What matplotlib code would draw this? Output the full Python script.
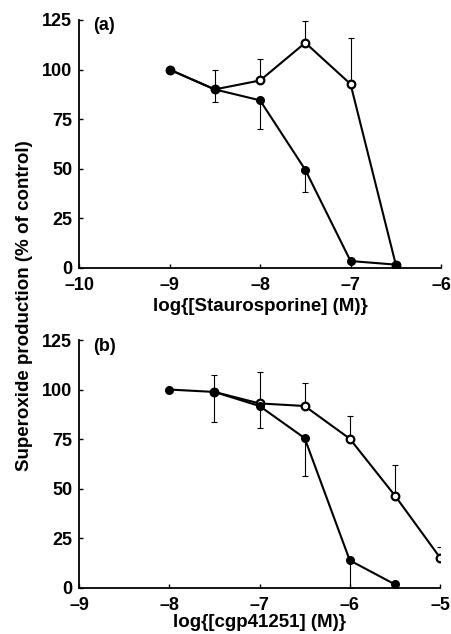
import matplotlib
matplotlib.use("Agg")
import matplotlib.pyplot as plt

plt.rcParams['font.family'] = ['Liberation Sans', 'DejaVu Sans']
plt.rcParams['font.weight'] = 'bold'

# Panel (a): Staurosporine
a_x = [-9, -8.5, -8, -7.5, -7, -6.5]
a_filled_y = [100, 90, 84.5, 49.5, 3.5, 1.7]
a_filled_lo = [0, 6.4, 14.5, 11, 0, 0]
a_filled_hi = [0, 0, 0, 0, 0, 0]
a_open_y = [100, 90, 94.5, 113.5, 92.7, 1.7]
a_open_lo = [0, 0, 0, 0, 0, 0]
a_open_hi = [0, 9.6, 11, 11, 23, 0]

# Panel (b): cgp41251
b_filled_x = [-8, -7.5, -7, -6.5, -6, -5.5]
b_filled_y = [100, 98.8, 91.7, 75.5, 13.8, 1.7]
b_filled_lo = [0, 15, 11.3, 19, 13.8, 0]
b_filled_hi = [0, 0, 0, 0, 0, 0]
b_open_x = [-7.5, -7, -6.5, -6, -5.5, -5]
b_open_y = [98.8, 93, 91.7, 75.2, 46.5, 15.2]
b_open_lo = [0, 0, 0, 0, 0, 0]
b_open_hi = [8.5, 16, 11.4, 11.4, 15.3, 5.2]

y_ticks = [0, 25, 50, 75, 100, 125]

fig = plt.figure(figsize=(4.52, 6.34), dpi=100)
ax1 = fig.add_axes([0.1748, 0.5773, 0.8010, 0.3912])
ax2 = fig.add_axes([0.1748, 0.0730, 0.7987, 0.3907])


def draw(ax, fx, fy, flo, fhi, ox, oy, olo, ohi, xlim, xticks, xlabel, tag,
         lpad):
    ax.errorbar(fx, fy, yerr=[flo, fhi], fmt='none', ecolor='black',
                elinewidth=0.8, capsize=2.5, capthick=0.8, zorder=2)
    ax.errorbar(ox, oy, yerr=[olo, ohi], fmt='none', ecolor='black',
                elinewidth=0.8, capsize=2.5, capthick=0.8, zorder=2)
    ax.plot(ox, oy, color='black', lw=1.5, zorder=3)
    ax.plot(fx, fy, color='black', lw=1.5, zorder=3)
    ax.plot(ox, oy, 'o', ms=5.5, mfc='white', mec='black', mew=1.6,
            ls='none', zorder=4)
    ax.plot(fx, fy, 'o', ms=5.5, mfc='black', mec='black',
            ls='none', zorder=5)
    ax.set_xlim(*xlim)
    ax.set_ylim(0, 125)
    ax.set_xticks(xticks)
    ax.set_xticklabels(['\u2013%d' % abs(t) for t in xticks])
    ax.set_yticks(y_ticks)
    ax.spines['top'].set_visible(False)
    ax.spines['right'].set_visible(False)
    ax.spines['left'].set_linewidth(1.3)
    ax.spines['bottom'].set_linewidth(1.3)
    ax.tick_params(direction='in', length=3, width=1, labelsize=13)
    ax.tick_params(axis='x', pad=6.5)
    ax.tick_params(axis='y', pad=5)
    for lab in ax.get_xticklabels() + ax.get_yticklabels():
        lab.set_fontweight('bold')
    ax.set_xlabel(xlabel, fontsize=13.5, fontweight='bold', labelpad=lpad)
    ax.text(0.04, 1.01, tag, transform=ax.transAxes, fontsize=13,
            fontweight='bold', va='top', ha='left')


draw(ax1, a_x, a_filled_y, a_filled_lo, a_filled_hi,
     a_x, a_open_y, a_open_lo, a_open_hi,
     (-10, -6), [-10, -9, -8, -7, -6], 'log{[Staurosporine] (M)}', '(a)', 3)
draw(ax2, b_filled_x, b_filled_y, b_filled_lo, b_filled_hi,
     b_open_x, b_open_y, b_open_lo, b_open_hi,
     (-9, -5), [-9, -8, -7, -6, -5], 'log{[cgp41251] (M)}', '(b)', 0.5)

fig.text(0.055, 0.518, 'Superoxide production (% of control)', rotation=90,
         fontsize=13.5, fontweight='bold', va='center', ha='center')

fig.savefig('out.png', dpi=100)
